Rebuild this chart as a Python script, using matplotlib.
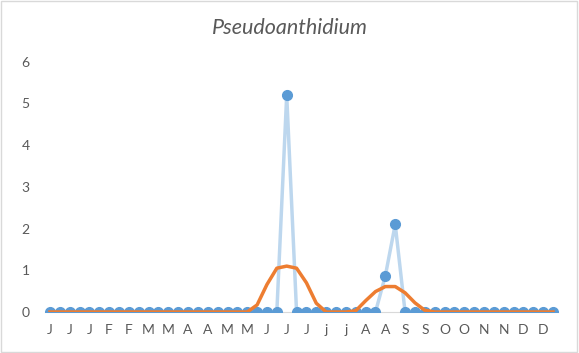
import matplotlib
matplotlib.use("Agg")
import matplotlib.pyplot as plt
from matplotlib.patches import Rectangle

plt.rcParams['font.family'] = ['Lato', 'DejaVu Sans']

# 52 weekly categories, month initials
week_labels = ['J', 'J', 'J', 'J', 'J', 'F', 'F', 'F', 'F', 'M', 'M', 'M', 'M',
               'A', 'A', 'A', 'A', 'M', 'M', 'M', 'M', 'J', 'J', 'J', 'J', 'J',
               'J', 'j', 'j', 'j', 'j', 'A', 'A', 'A', 'A', 'S', 'S', 'S', 'S',
               'O', 'O', 'O', 'O', 'N', 'N', 'N', 'N', 'D', 'D', 'D', 'D', 'D']

# observed counts (blue)
counts = [0.0] * 52
counts[24] = 5.2
counts[34] = 0.87
counts[35] = 2.1

# smoothed trend (orange)
trend = [0.0] * 52
trend[21:29] = [0.17, 0.66, 1.05, 1.10, 1.05, 0.70, 0.21, 0.0]
trend[31:40] = [0.03, 0.27, 0.49, 0.61, 0.61, 0.46, 0.22, 0.04, 0.0]

x = list(range(52))

fig = plt.figure(figsize=(5.79, 3.53), dpi=100)
fig.patches.append(Rectangle((0.002, 0.003), 0.995, 0.993, transform=fig.transFigure,
                             fill=False, edgecolor='#D9D9D9', linewidth=1.0))

ax = fig.add_axes([45 / 579, 1 - 312 / 353, (558 - 45) / 579, (312 - 61.7) / 353])

ax.plot(x, counts, color='#BDD7EE', linewidth=2.5, zorder=2)
ax.plot(x, counts, linestyle='none', marker='o', markersize=7,
        color='#5B9BD5', zorder=3)
ax.plot(x, trend, color='#ED7D31', linewidth=2.5, zorder=4)

ax.set_xlim(-0.5, 51.5)
ax.set_ylim(0, 6)
ax.set_yticks(range(7))
ax.set_xticks(x[::2])
ax.set_xticklabels(week_labels[::2])

for s in ['top', 'right', 'left']:
    ax.spines[s].set_visible(False)
ax.spines['bottom'].set_color('#D9D9D9')
ax.tick_params(axis='both', length=0, colors='#595959', labelsize=10)
ax.tick_params(axis='y', pad=11)
ax.tick_params(axis='x', pad=9)

fig.text(0.5, 1 - 28 / 353, 'Pseudoanthidium', ha='center', va='center',
         fontsize=15.5, style='italic', color='#595959')

fig.savefig('out.png', dpi=100)
